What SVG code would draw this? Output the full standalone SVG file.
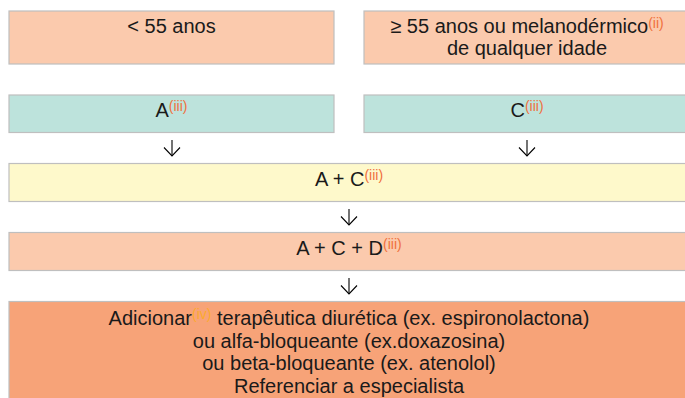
<svg xmlns="http://www.w3.org/2000/svg" width="685" height="398" viewBox="0 0 685 398">
<style>
.box{stroke:#bfbfbf;stroke-width:1.2}
.peach{fill:#fbcaad}
.teal{fill:#bde3dc}
.yellow{fill:#fef9cb}
.orange{fill:#f7a378}
text{font-family:"Liberation Sans",Arial,sans-serif;font-size:20px;fill:#1a1a1a;text-anchor:middle}
.sup{font-size:14px;fill:#f0703c}
.sup2{font-size:14px;fill:#fcaa2e}
.conn{stroke:#000;stroke-width:1.1;fill:none}
</style>
<defs>
<marker id="arr" viewBox="-10 -9 12 18" refX="0" refY="0" markerWidth="12" markerHeight="18" markerUnits="userSpaceOnUse" orient="auto">
<path d="M-8.5,-8 L0,0 L-8.5,8" fill="none" stroke="#000" stroke-width="1.1"/>
</marker>
</defs>
<rect width="685" height="398" fill="#fff"/>
<g id="age-under-55">
<rect class="box peach" x="9" y="11" width="325" height="53"/>
<text x="171.5" y="33">&lt; 55 anos</text>
</g>
<g id="age-over-55">
<rect class="box peach" x="364" y="11" width="326" height="53"/>
<text x="527" y="33">≥ 55 anos ou melanodérmico<tspan class="sup" dy="-5">(ii)</tspan></text>
<text x="527" y="55">de qualquer idade</text>
</g>
<g id="step-A">
<rect class="box teal" x="9" y="95" width="325" height="37.5"/>
<text x="171.5" y="117">A<tspan class="sup" dy="-6">(iii)</tspan></text>
</g>
<g id="step-C">
<rect class="box teal" x="364" y="95" width="326" height="37.5"/>
<text x="527" y="117">C<tspan class="sup" dy="-6">(iii)</tspan></text>
</g>
<g id="step-AC">
<rect class="box yellow" x="9" y="163.5" width="681" height="38"/>
<text x="349" y="186">A + C<tspan class="sup" dy="-6">(iii)</tspan></text>
</g>
<g id="step-ACD">
<rect class="box peach" x="9" y="232.5" width="681" height="38"/>
<text x="349" y="254.5">A + C + D<tspan class="sup" dy="-6">(iii)</tspan></text>
</g>
<g id="step-final">
<rect class="box orange" x="9" y="301.5" width="681" height="110"/>
<text x="349" y="325">Adicionar<tspan class="sup2" dy="-6">(iv)</tspan><tspan dy="6"> terapêutica diurética (ex. espironolactona)</tspan></text>
<text x="349" y="347.5">ou alfa-bloqueante (ex.doxazosina)</text>
<text x="349" y="370">ou beta-bloqueante (ex. atenolol)</text>
<text x="349" y="392.5">Referenciar a especialista</text>
</g>
<g id="connectors">
<line class="conn" x1="172" y1="140" x2="172" y2="156" marker-end="url(#arr)"/>
<line class="conn" x1="527" y1="140" x2="527" y2="156" marker-end="url(#arr)"/>
<line class="conn" x1="349" y1="209" x2="349" y2="225" marker-end="url(#arr)"/>
<line class="conn" x1="349" y1="278" x2="349" y2="294" marker-end="url(#arr)"/>
</g>
</svg>
